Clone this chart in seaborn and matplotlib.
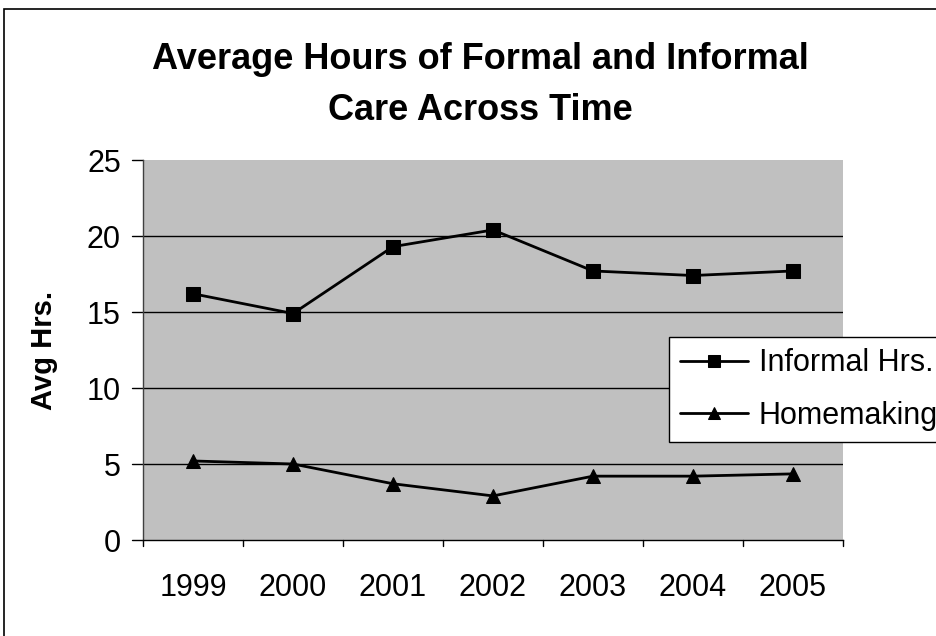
import matplotlib
matplotlib.use("Agg")
import matplotlib.pyplot as plt
from matplotlib.patches import Rectangle
import seaborn as sns
import pandas as pd

years = ["1999", "2000", "2001", "2002", "2003", "2004", "2005"]
informal_hrs = [16.2, 14.9, 19.3, 20.4, 17.7, 17.4, 17.7]
homemaking_hrs = [5.2, 5.0, 3.7, 2.9, 4.2, 4.2, 4.35]
series_names = ["Informal Hrs.", "Homemaking"]

df = pd.DataFrame({
    "Year": years * 2,
    "Hours": informal_hrs + homemaking_hrs,
    "Series": [series_names[0]] * len(years) + [series_names[1]] * len(years),
})
df["pos"] = list(range(len(years))) * 2

sns.set_style("white")
plt.rcParams["font.family"] = ["Liberation Sans", "DejaVu Sans"]
plt.rcParams["text.color"] = "black"
plt.rcParams["axes.labelcolor"] = "black"

W, H = 937, 636
fig = plt.figure(figsize=(W / 100, H / 100), dpi=100)
ax = fig.add_axes([143 / W, (H - 540) / H, 700 / W, 380 / H])
ax.set_facecolor("#C0C0C0")

sns.lineplot(
    data=df, x="pos", y="Hours", hue="Series", style="Series",
    palette=["black", "black"], markers=["s", "^"], dashes=False,
    markersize=10, linewidth=2, markeredgecolor="black", ax=ax,
)

ax.set_xlim(-0.5, len(years) - 0.5)
ax.set_ylim(0, 25)
ax.set_yticks([0, 5, 10, 15, 20, 25])
ax.set_xticks(range(len(years)))
ax.set_xticklabels(years)
ax.tick_params(axis="both", labelsize=22, colors="black", labelcolor="black")
ax.tick_params(axis="x", length=0, pad=24)
ax.tick_params(axis="y", length=0, pad=16)

# category boundary ticks on the x axis and outward ticks on the y axis
for b in range(len(years) + 1):
    ax.plot([b - 0.5, b - 0.5], [0, -0.4], color="black", lw=1, clip_on=False)
for v in [0, 5, 10, 15, 20, 25]:
    ax.plot([-0.5, -0.61], [v, v], color="black", lw=1, clip_on=False)
for v in [5, 10, 15, 20]:
    ax.axhline(v, color="black", lw=1, zorder=0.5)

for side in ["top", "right"]:
    ax.spines[side].set_visible(False)
ax.spines["left"].set_color("#404040")
ax.spines["bottom"].set_color("black")
ax.spines["left"].set_linewidth(1)
ax.spines["bottom"].set_linewidth(1)

ax.set_xlabel("")
ax.set_ylabel("Avg Hrs.", fontsize=21, fontweight="bold", color="black")
ax.yaxis.set_label_coords(58 / W, 1 - 350 / H, transform=fig.transFigure)

fig.text(480 / W, 1 - 85 / H, "Average Hours of Formal and Informal\nCare Across Time",
         ha="center", va="center", fontsize=26, fontweight="bold",
         linespacing=1.62, color="black")

handles, labels = ax.get_legend_handles_labels()
leg = ax.legend(
    handles, labels, loc="upper left",
    bbox_to_anchor=(669 / W, 1 - 337 / H), bbox_transform=fig.transFigure,
    borderaxespad=0, fontsize=22, frameon=True, fancybox=False,
    edgecolor="black", framealpha=1, handlelength=2.2, handletextpad=0.36,
    labelspacing=0.73, borderpad=0.37, labelcolor="black",
)
leg.get_frame().set_linewidth(1)
for h in leg.legend_handles:
    h.set_markersize(8)

# outer chart border
fig.patches.append(Rectangle((4 / W, -0.05), 1.1, 1 - 9 / H + 0.05,
                             transform=fig.transFigure, fill=False,
                             edgecolor="black", lw=1.2))

fig.savefig("out.png", dpi=100, facecolor="white")
